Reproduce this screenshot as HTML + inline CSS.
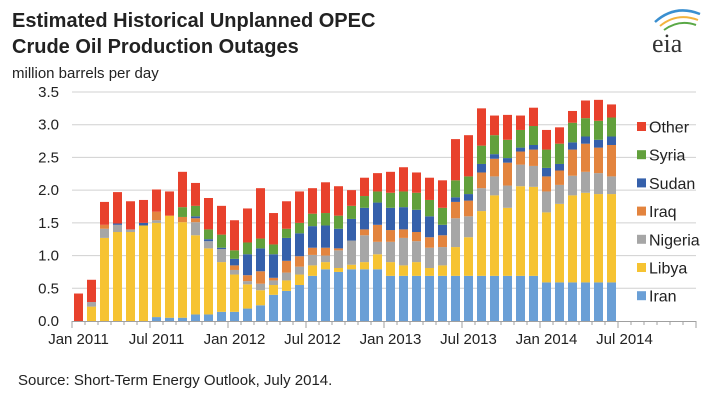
<!DOCTYPE html>
<html><head><meta charset="utf-8"><style>
html,body{margin:0;padding:0;background:#fff;}
svg{display:block;font-family:"Liberation Sans",Arial,sans-serif;}
</style></head><body>
<svg id="chart" width="717" height="400" viewBox="0 0 717 400" xmlns="http://www.w3.org/2000/svg">
<text x="12" y="27" font-size="20" font-weight="bold" fill="#222">Estimated Historical Unplanned OPEC</text>
<text x="12" y="53" font-size="20" font-weight="bold" fill="#222">Crude Oil Production Outages</text>
<text x="12" y="78" font-size="15" fill="#222">million barrels per day</text>
<g>
<path d="M655 22 Q675 4 700 14" stroke="#3a8fd0" stroke-width="2.5" fill="none"/>
<path d="M660 26 Q677 12 698 20" stroke="#f3b33d" stroke-width="2" fill="none"/>
<path d="M664 30 Q679 19 696 25" stroke="#5aa846" stroke-width="2" fill="none"/>
<text x="652" y="52" font-size="26" fill="#333" font-family="Liberation Serif,serif">eia</text>
</g>
<g id="grid"></g><g id="bars"></g><g id="axes"></g><g id="legend"></g>
<text x="18" y="385" font-size="15" fill="#222">Source: Short-Term Energy Outlook, July 2014.</text>
</svg>
<script>
const seriesNames=["Iran","Libya","Nigeria","Iraq","Sudan","Syria","Other"];
const colors=["#6a9fd6","#f6c332","#a6a6a6","#e3843e","#3560ab","#62a03c","#e8412c"];
const yTicks=["0.0","0.5","1.0","1.5","2.0","2.5","3.0","3.5"];
const xLabels=["Jan 2011","Jul 2011","Jan 2012","Jul 2012","Jan 2013","Jul 2013","Jan 2014","Jul 2014"];
const iran=[0,0,0,0,0,0,0.06,0.05,0.05,0.10,0.10,0.14,0.14,0.19,0.24,0.40,0.46,0.55,0.69,0.79,0.75,0.79,0.79,0.79,0.69,0.69,0.69,0.69,0.69,0.69,0.69,0.69,0.69,0.69,0.69,0.69,0.59,0.59,0.59,0.59,0.59,0.59];
const libya=[0,0.22,1.27,1.36,1.36,1.46,1.44,1.56,1.46,1.21,1.01,0.76,0.57,0.37,0.23,0.15,0.16,0.16,0.16,0.11,0.06,0.07,0.11,0.23,0.21,0.16,0.21,0.12,0.16,0.44,0.59,0.99,1.23,1.04,1.37,1.36,1.07,1.20,1.33,1.37,1.35,1.35];
const nigeria=[0,0.07,0.14,0.11,0.04,0,0.04,0,0,0.20,0.11,0.20,0.07,0.05,0.10,0.07,0.12,0.12,0.16,0.10,0.27,0.37,0.41,0.19,0.31,0.42,0.32,0.31,0.28,0.44,0.32,0.35,0.29,0.34,0.33,0.32,0.32,0.29,0.30,0.32,0.32,0.27];
const iraq=[0,0,0.06,0,0,0,0.13,0,0.08,0.06,0,0,0.07,0.09,0.19,0.04,0.18,0.16,0.11,0.12,0.03,0,0.09,0.26,0.18,0.13,0.14,0.16,0.18,0.25,0.24,0.24,0.27,0.35,0.20,0.25,0.23,0.22,0.40,0.43,0.39,0.48];
const sudan=[0,0,0,0.02,0,0.04,0,0,0,0.03,0.03,0.02,0.10,0.32,0.35,0.36,0.35,0.35,0.33,0.34,0.30,0.33,0.33,0.34,0.34,0.34,0.34,0.32,0.16,0.07,0.10,0.13,0.07,0.07,0.06,0.07,0.13,0.10,0.11,0.11,0.12,0.13];
const syria=[0,0,0,0,0,0,0,0,0.15,0.16,0.15,0.20,0.13,0.18,0.15,0.15,0.14,0.16,0.19,0.19,0.20,0.20,0.18,0.17,0.23,0.24,0.26,0.25,0.26,0.26,0.27,0.28,0.29,0.28,0.27,0.29,0.28,0.31,0.30,0.28,0.29,0.29];
const other=[0.42,0.34,0.35,0.48,0.43,0.35,0.34,0.37,0.54,0.35,0.48,0.44,0.46,0.52,0.77,0.48,0.42,0.48,0.39,0.47,0.45,0.24,0.28,0.28,0.32,0.37,0.31,0.34,0.42,0.63,0.63,0.57,0.30,0.38,0.22,0.28,0.30,0.25,0.18,0.27,0.32,0.20];
const series=[iran,libya,nigeria,iraq,sudan,syria,other];
const NS="http://www.w3.org/2000/svg";
const x0=72,monthW=13,nMonths=48,yBase=321,yUnit=65.43;
const xPos=i=>x0+monthW*i;
const yPos=v=>yBase-v*yUnit;
function mk(tag,attrs,parent){const e=document.createElementNS(NS,tag);for(const k in attrs)e.setAttribute(k,attrs[k]);parent.appendChild(e);return e;}
const grid=document.getElementById('grid'),bars=document.getElementById('bars'),axes=document.getElementById('axes'),legend=document.getElementById('legend');
yTicks.forEach((t,i)=>{const v=parseFloat(t);const y=yPos(v);
 if(i>0){const l=mk('line',{x1:x0,x2:xPos(nMonths),y1:y,y2:y,stroke:'#d0d0d0','stroke-width':1},grid);
 
 }
 const tx=mk('text',{x:59,y:y+5,'font-size':15,'text-anchor':'end',fill:'#222'},axes);tx.textContent=t;
 
 
});
for(let i=0;i<iran.length;i++){let cum=0;
 for(let s=0;s<series.length;s++){const v=series[s][i];if(v<=0)continue;
  const r=mk('rect',{x:xPos(i)+2,width:9,y:yPos(cum+v),height:v*yUnit,fill:colors[s]},bars);
  
  
  cum+=v;}
}
const ax=mk('line',{x1:x0,x2:xPos(nMonths),y1:yBase+0.5,y2:yBase+0.5,stroke:'#a0a0a0','stroke-width':1},axes);


for(let i=0;i<=nMonths;i++){const major=i%6===0;
 const t=mk('line',{x1:xPos(i),x2:xPos(i),y1:yBase,y2:yBase+(major?7:4),stroke:'#a0a0a0','stroke-width':1},axes);
 
 }
xLabels.forEach((l,k)=>{const tx=mk('text',{x:xPos(k*6)+6.5,y:344,'font-size':15,'text-anchor':'middle',fill:'#222'},axes);tx.textContent=l;
 
 });
for(let s=seriesNames.length-1,row=0;s>=0;s--,row++){const y=128+row*28.2;
 const g=mk('g',{},legend);
 
 
 mk('rect',{x:637,y:y-6,width:9,height:9,fill:colors[s]},g);
 const tx=mk('text',{x:649,y:y+4.5,'font-size':16,fill:'#222'},g);tx.textContent=seriesNames[s];}
</script>
</body></html>
